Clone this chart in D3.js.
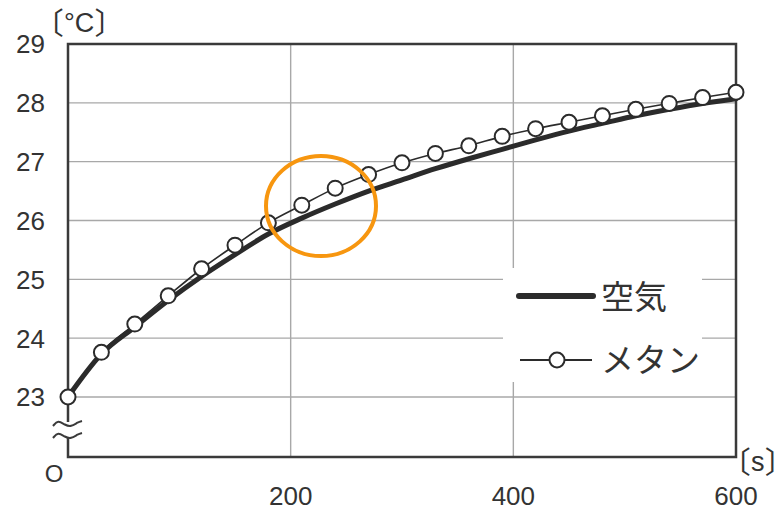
<!DOCTYPE html>
<html>
<head>
<meta charset="utf-8">
<script src="https://cdn.jsdelivr.net/npm/d3@7/dist/d3.min.js"></script>
<style>
  html, body { margin: 0; padding: 0; background: #fff; }
  svg text { font-family: "Liberation Sans", Arial, sans-serif; fill: #333; }
  .jp { font-family: "Noto Sans CJK JP", sans-serif; }
  .br { font-family: "Noto Sans CJK JP", sans-serif; font-feature-settings: "palt" 1; }
</style>
</head>
<body>
<svg id="chart" width="779" height="513"></svg>
<script>
// Time (s) at which temperatures were recorded
const times = [0, 30, 60, 90, 120, 150, 180, 210, 240, 270, 300,
               330, 360, 390, 420, 450, 480, 510, 540, 570, 600];
// Temperature of air (°C)
const airTemp = [23.0, 23.73, 24.19, 24.64, 25.05, 25.42, 25.77, 26.04, 26.28, 26.5, 26.69,
                 26.88, 27.05, 27.21, 27.37, 27.52, 27.65, 27.78, 27.89, 27.99, 28.07];
// Temperature of methane (°C)
const methaneTemp = [23.0, 23.76, 24.24, 24.72, 25.18, 25.58, 25.96, 26.26, 26.55, 26.78, 26.98,
                     27.14, 27.27, 27.43, 27.56, 27.67, 27.78, 27.89, 27.99, 28.09, 28.18];
const yTicks = [23, 24, 25, 26, 27, 28, 29];
const xTicks = [200, 400, 600];
const seriesNames = ["空気", "メタン"];

const svg = d3.select("#chart");
const plotL = 68, plotR = 736, plotT = 44, plotB = 457;
const x = d3.scaleLinear().domain([0, 600]).range([plotL, plotR]);
const y = d3.scaleLinear().domain([23, 29]).range([397, plotT]);
const ink = "#2b2b2b";

// Grid lines
const grid = svg.append("g").attr("stroke", "#a8a8a8").attr("stroke-width", 1.4);
grid.selectAll("line.h").data(yTicks.slice(0, -1)).join("line")
  .attr("x1", plotL).attr("x2", plotR).attr("y1", d => y(d)).attr("y2", d => y(d));
grid.selectAll("line.v").data([200, 400]).join("line")
  .attr("x1", d => x(d)).attr("x2", d => x(d)).attr("y1", plotT).attr("y2", plotB);

// Frame
svg.append("rect").attr("x", plotL).attr("y", plotT)
  .attr("width", plotR - plotL).attr("height", plotB - plotT)
  .attr("fill", "none").attr("stroke", "#3a3a3a").attr("stroke-width", 2.5);

// Axis break mark on the y axis
svg.append("rect").attr("x", plotL - 4).attr("y", 422).attr("width", 8).attr("height", 16).attr("fill", "#fff");
const wave = d3.line().curve(d3.curveBasis);
[424, 436].forEach(cy => {
  svg.append("path")
    .attr("d", wave([[plotL - 15, cy + 2], [plotL - 10, cy - 4], [plotL - 3, cy + 1], [plotL + 3, cy + 3], [plotL + 10, cy - 2], [plotL + 14, cy - 3]]))
    .attr("fill", "none").attr("stroke", "#3a3a3a").attr("stroke-width", 2);
});

// Y tick labels
svg.append("g").selectAll("text").data(yTicks).join("text")
  .attr("x", 45).attr("y", d => y(d)).attr("dy", "0.36em")
  .attr("text-anchor", "end").attr("font-size", 26)
  .text(d => d);

// X tick labels
svg.append("g").selectAll("text").data(xTicks).join("text")
  .attr("x", d => x(d)).attr("y", 505)
  .attr("text-anchor", "middle").attr("font-size", 26)
  .text(d => d);
svg.append("text").attr("x", 54).attr("y", 482).attr("text-anchor", "middle")
  .attr("font-size", 24).text("O");

// Unit labels in tortoise-shell brackets
function unitLabel(x0, baseY, unit) {
  const t = svg.append("text").attr("x", x0).attr("y", baseY);
  t.append("tspan").attr("class", "br").attr("font-size", 30).text("〔");
  t.append("tspan").attr("font-size", 27).attr("dy", -2).attr("dx", 1).text(unit);
  t.append("tspan").attr("class", "br").attr("font-size", 30).attr("dy", 2).attr("dx", 1).text("〕");
}
unitLabel(48, 34, "°C");
unitLabel(735, 473, "s");

// Air curve
const line = d3.line().x((d, i) => x(times[i])).y(d => y(d)).curve(d3.curveMonotoneX);
svg.append("path").datum(airTemp).attr("d", line)
  .attr("fill", "none").attr("stroke", ink).attr("stroke-width", 5)
  .attr("stroke-linecap", "round");

// Methane line and markers
svg.append("path").datum(methaneTemp).attr("d", line)
  .attr("fill", "none").attr("stroke", ink).attr("stroke-width", 1.6);
svg.append("g").selectAll("circle").data(methaneTemp).join("circle")
  .attr("cx", (d, i) => x(times[i])).attr("cy", d => y(d)).attr("r", 7.5)
  .attr("fill", "#fff").attr("stroke", ink).attr("stroke-width", 2);

// Highlight circle
svg.append("ellipse").attr("cx", 321).attr("cy", 206).attr("rx", 55).attr("ry", 50)
  .attr("fill", "none").attr("stroke", "#F7960F").attr("stroke-width", 4);

// Legend
const lg = svg.append("g");
lg.append("rect").attr("x", 503).attr("y", 268).attr("width", 199).attr("height", 114).attr("fill", "#fff");
lg.append("line").attr("x1", 519).attr("x2", 593).attr("y1", 296).attr("y2", 296)
  .attr("stroke", ink).attr("stroke-width", 6).attr("stroke-linecap", "round");
lg.append("line").attr("x1", 520).attr("x2", 592).attr("y1", 360).attr("y2", 360)
  .attr("stroke", ink).attr("stroke-width", 1.8);
lg.append("circle").attr("cx", 557).attr("cy", 360).attr("r", 7.5)
  .attr("fill", "#fff").attr("stroke", ink).attr("stroke-width", 2);
lg.selectAll("text").data(seriesNames).join("text").attr("class", "jp")
  .attr("x", 601).attr("y", (d, i) => i === 0 ? 297 : 360).attr("dy", "0.36em")
  .attr("font-size", 33).text(d => d);
</script>
</body>
</html>
